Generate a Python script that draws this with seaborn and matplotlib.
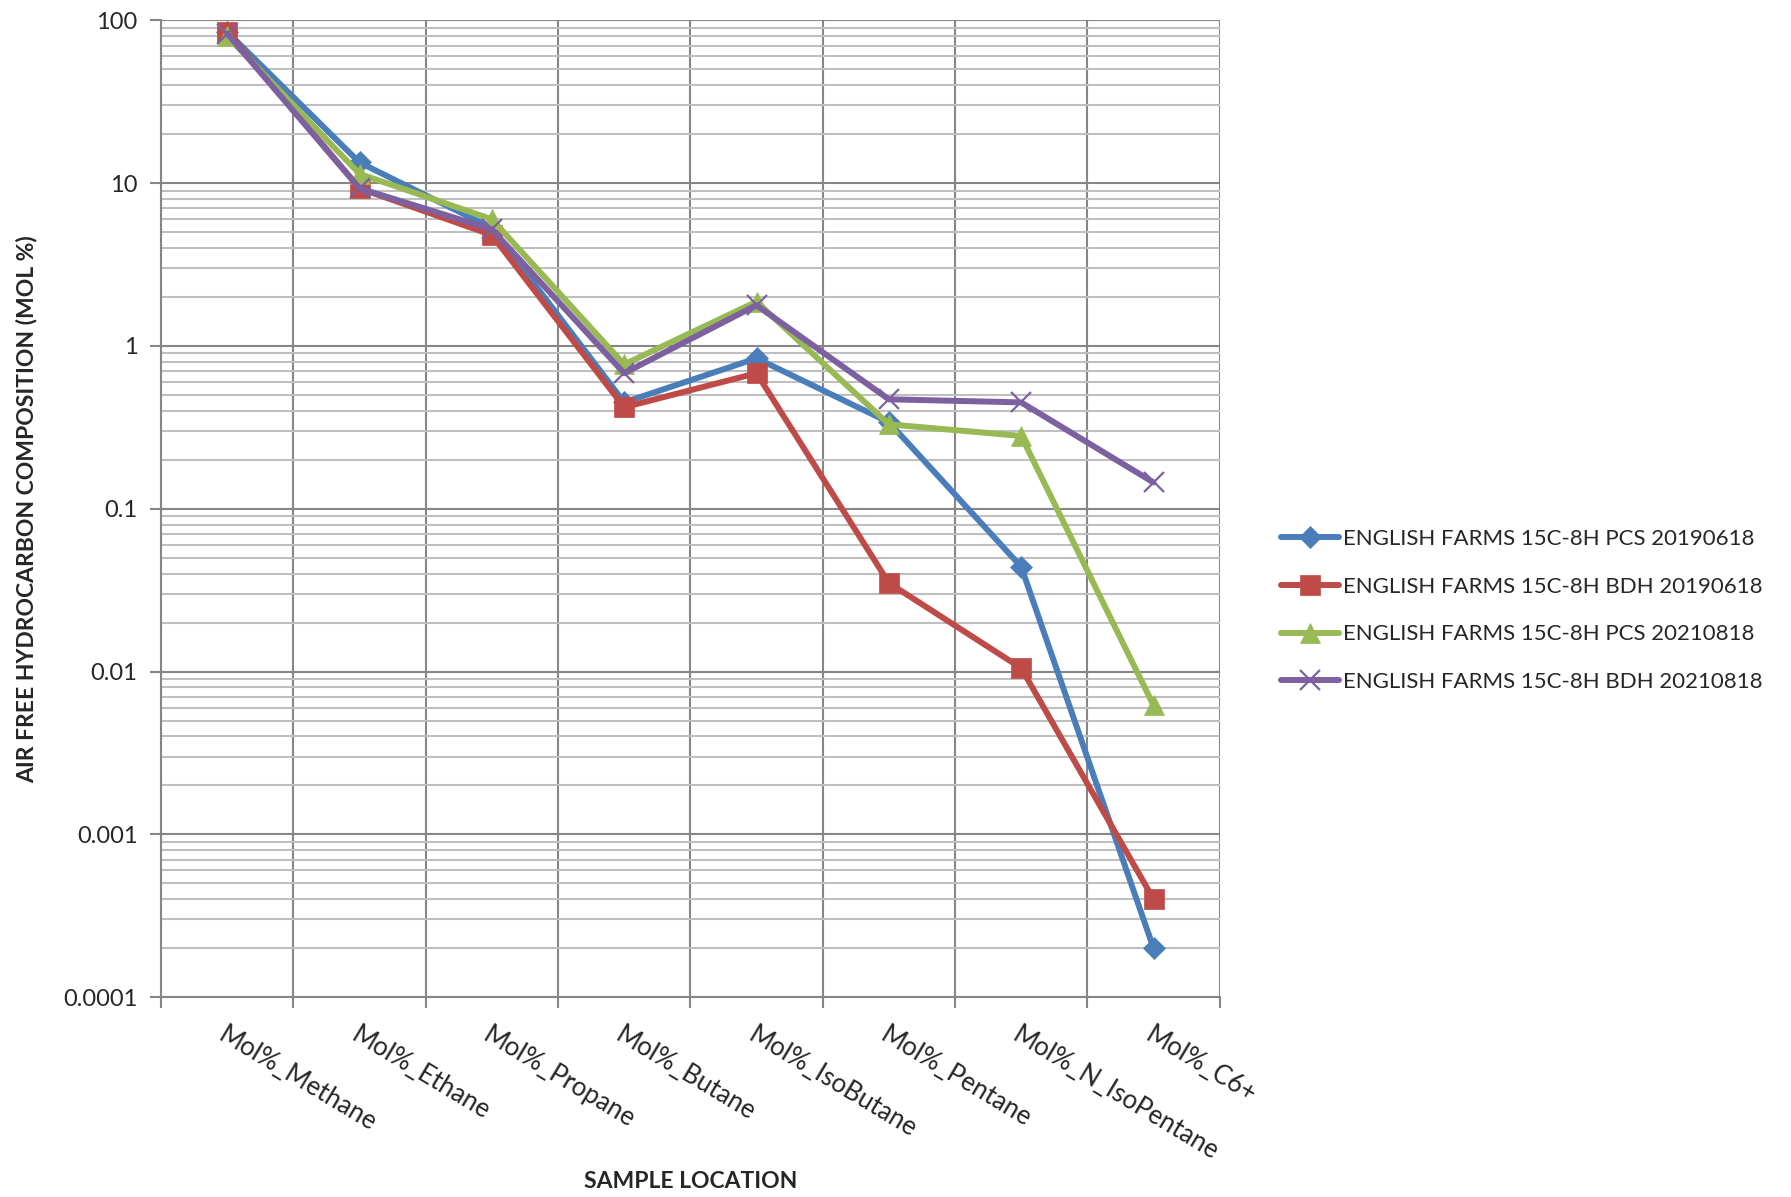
import numpy as np
import pandas as pd
import matplotlib
matplotlib.use("Agg")
import matplotlib.pyplot as plt
import seaborn as sns
from matplotlib.ticker import LogLocator, FixedLocator, NullFormatter, FuncFormatter

categories = ["Mol%_Methane", "Mol%_Ethane", "Mol%_Propane", "Mol%_Butane",
              "Mol%_IsoButane", "Mol%_Pentane", "Mol%_N_IsoPentane", "Mol%_C6+"]

pcs_2019 = [85, 13.4, 5.3, 0.45, 0.84, 0.34, 0.044, 0.0002]
bdh_2019 = [85, 9.3, 4.8, 0.42, 0.68, 0.035, 0.0105, 0.0004]
pcs_2021 = [80, 11.4, 6.0, 0.77, 1.87, 0.33, 0.28, 0.0062]
bdh_2021 = [83, 9.3, 5.2, 0.68, 1.78, 0.47, 0.45, 0.145]

series_names = ["ENGLISH FARMS 15C-8H PCS 20190618",
                "ENGLISH FARMS 15C-8H BDH 20190618",
                "ENGLISH FARMS 15C-8H PCS 20210818",
                "ENGLISH FARMS 15C-8H BDH 20210818"]
series_values = [pcs_2019, bdh_2019, pcs_2021, bdh_2021]
colors = ["#4A7EBB", "#BE4B48", "#98B954", "#7D60A0"]
markers = ["D", "s", "^", "x"]
msizes = [11, 14, 15, 14]

sns.set_theme(style="white")
plt.rcParams['font.family'] = ['Lato', 'DejaVu Sans']

fig = plt.figure(figsize=(17.91, 11.97), dpi=100)
ax = fig.add_axes([0.0899, 0.167, 0.681 - 0.0899, 0.983 - 0.167])

for name, vals, c, m, ms in zip(series_names, series_values, colors, markers, msizes):
    df = pd.DataFrame({"cat": categories, "val": vals})
    sns.lineplot(data=df, x="cat", y="val", ax=ax, color=c, marker=m,
                 markersize=ms, linewidth=4.3, sort=False, label=name,
                 markeredgecolor=c, markeredgewidth=1.6 if m == "x" else 0.5)

ax.set_yscale("log")
ax.set_ylim(1e-4, 100)
ax.set_xlim(-0.5, len(categories) - 0.5)

ax.yaxis.set_major_locator(LogLocator(base=10, numticks=20))
ax.yaxis.set_minor_locator(LogLocator(base=10, subs=np.arange(2, 10), numticks=20))
ax.yaxis.set_minor_formatter(NullFormatter())
ax.yaxis.set_major_formatter(FuncFormatter(lambda v, p: ("%g" % v) if v < 1e-3 or v >= 1 else ("%.4f" % v).rstrip("0")))

ax.set_xticks(np.arange(len(categories)))
ax.set_xticklabels(categories, rotation=-31, ha="left", va="top", rotation_mode="anchor", fontsize=18.5)
ax.xaxis.set_minor_locator(FixedLocator(np.arange(-0.5, len(categories), 1.0)))
ax.tick_params(axis="x", which="major", length=0, pad=18)
ax.tick_params(axis="x", which="minor", length=8, width=1.5, color="#868686", direction="out", bottom=True)
ax.tick_params(axis="y", which="major", length=8, width=1.5, color="#868686", direction="out", left=True, labelsize=17, pad=9)
ax.tick_params(axis="y", which="minor", length=0)

ax.grid(False)
ax.grid(True, which="major", axis="y", color="#868686", linewidth=1.5)
ax.grid(True, which="minor", axis="y", color="#BFBFBF", linewidth=1.5)
ax.grid(True, which="minor", axis="x", color="#868686", linewidth=1.5)
ax.set_axisbelow(True)

for s in ["top", "right"]:
    ax.spines[s].set_visible(False)
for s in ["left", "bottom"]:
    ax.spines[s].set_color("#868686")
    ax.spines[s].set_linewidth(1.5)

ax.set_xlabel("SAMPLE LOCATION", fontsize=16.5, fontweight="bold")
ax.set_ylabel("AIR FREE HYDROCARBON COMPOSITION (MOL %)", fontsize=16.5, fontweight="bold")
ax.xaxis.set_label_coords(0.5, -0.178)
ax.yaxis.set_label_coords(-0.117, 0.5)

ax.legend(loc="center left", bbox_to_anchor=(0.704, 0.49), bbox_transform=fig.transFigure,
          frameon=False, fontsize=16, handlelength=2.6, handletextpad=0.2, labelspacing=1.25)

fig.savefig("out.png", dpi=100)
